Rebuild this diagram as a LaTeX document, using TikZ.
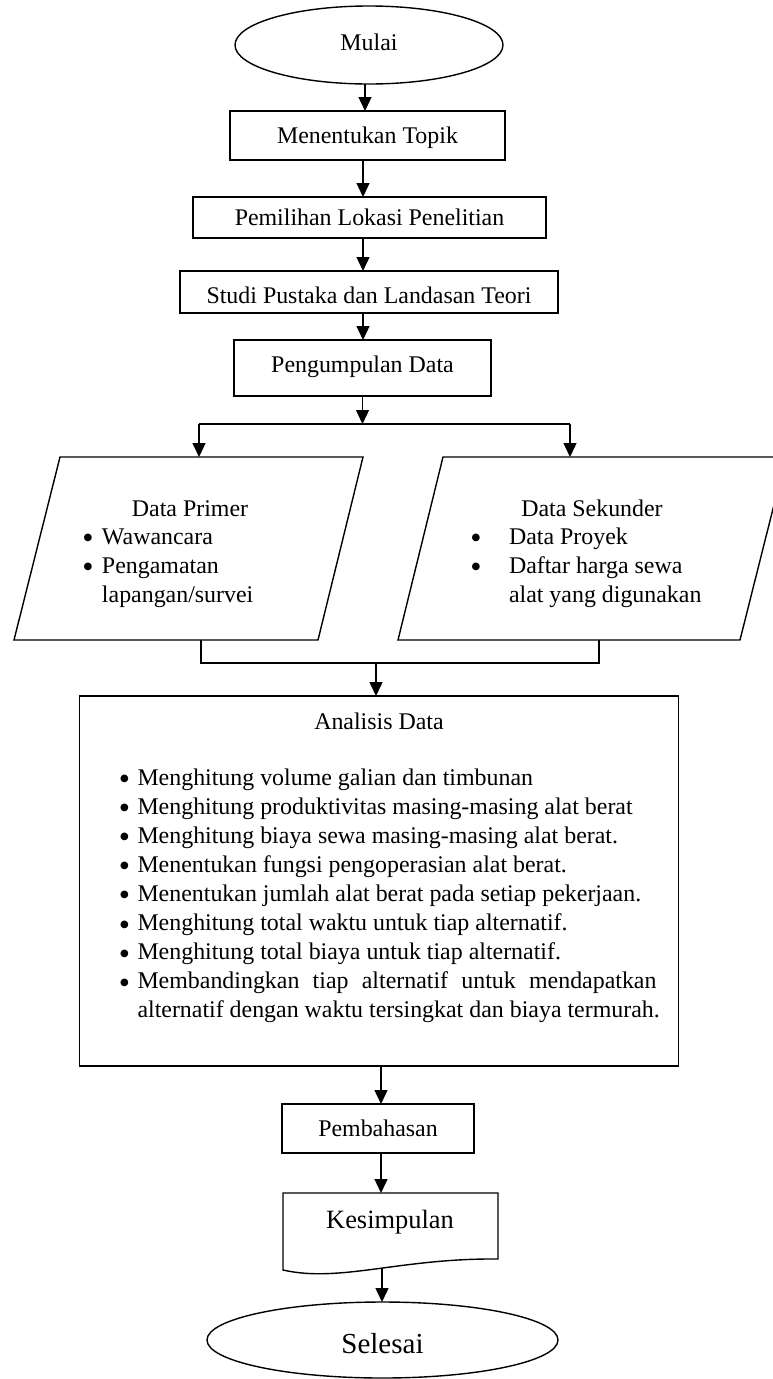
\documentclass[tikz,border=0pt]{standalone}
\usepackage{fontspec}
\setmainfont{Liberation Serif}
\newfontfamily\dejavu{DejaVu Sans}
\usetikzlibrary{arrows.meta,shapes.geometric,calc}
\newcommand{\blt}{\raisebox{3.5pt}{\dejavu\fontsize{10}{10}\selectfont ●}}
\begin{document}
\begin{tikzpicture}[x=1pt,y=-1pt,
  every node/.style={inner sep=0pt, outer sep=0pt, line width=1.4pt, font=\fontsize{23.9}{29.1}\selectfont},
  boxnode/.style={draw, rectangle},
  termnode/.style={draw, ellipse},
  arr/.style={-{Triangle[length=14pt,width=13pt]}, line width=1.4pt},
  ln/.style={line width=1.4pt},
  shp/.style={line width=1.4pt, line join=miter},
]
\useasboundingbox (0,0) rectangle (773,1379);
\clip (0,0) rectangle (773,1379);

% axis coordinates
\coordinate (ax1) at (365,0);
\coordinate (ax2) at (363,0);
\coordinate (ax3) at (381,0);

% top chain
\node[termnode, minimum width=268pt, minimum height=78pt, text height=16pt, text depth=6pt] (mulai) at (369,45) {Mulai};
\node[boxnode, minimum width=275pt, minimum height=49pt, text height=18.5pt, text depth=3.5pt] (topik) at (367.5,135.5) {Menentukan Topik};
\node[boxnode, minimum width=353pt, minimum height=41pt, text height=18.5pt, text depth=3.5pt] (lokasi) at (369.5,217.5) {Pemilihan Lokasi Penelitian};
\node[boxnode, minimum width=378pt, minimum height=42pt, text height=22pt, text depth=0pt] (studi) at (369,292) {Studi Pustaka dan Landasan Teori};
\node[boxnode, minimum width=257pt, minimum height=56pt, text height=15.7pt, text depth=6.3pt] (kumpul) at (362.5,368) {Pengumpulan Data};

\draw[arr] (ax1 |- mulai.south) -- (ax1 |- topik.north);
\draw[arr] (ax2 |- topik.south) -- (ax2 |- lokasi.north);
\draw[arr] (ax2 |- lokasi.south) -- (ax2 |- studi.north);
\draw[arr] (ax2 |- studi.south) -- (ax2 |- kumpul.north);

% split
\coordinate (js) at (362.5,424);
\coordinate (jl) at (199,424);
\coordinate (jr) at (570,424);
\draw[arr] (kumpul.south) -- (js);
\draw[ln] (jl) -- (jr);

% parallelograms
\coordinate (p1a) at (60,457);
\coordinate (p1b) at (363,457);
\coordinate (p1c) at (318,640);
\coordinate (p1d) at (14,640);
\coordinate (p2a) at (443,457);
\coordinate (p2b) at (786,457);
\coordinate (p2c) at (740,640);
\coordinate (p2d) at (398,640);
\draw[shp] (p1a) -- (p1b) -- (p1c) -- (p1d) -- cycle;
\draw[shp] (p2a) -- (p2b) -- (p2c) -- (p2d) -- cycle;
\draw[arr] (jl) -- (jl |- p1a);
\draw[arr] (jr) -- (jr |- p2a);

\node[anchor=base] (dp) at (190,516) {Data Primer};
\node[anchor=base west] (dpl) at (74,544) {\begin{tabular}[t]{@{}l@{}l@{}}
\makebox[28pt]{\blt} & Wawancara\\
\makebox[28pt]{\blt} & Pengamatan\\
 & lapangan/survei
\end{tabular}};
\node[anchor=base] (dsk) at (592,516) {Data Sekunder};
\node[anchor=base west] (dskl) at (443,544) {\begin{tabular}[t]{@{}l@{}l@{}}
\makebox[66pt]{\blt} & Data Proyek\\
\makebox[66pt]{\blt} & Daftar harga sewa\\
 & alat yang digunakan
\end{tabular}};

% merge
\coordinate (ml) at (201,640);
\coordinate (mr) at (599,640);
\coordinate (mj) at (376,663);
\draw[ln] (ml) -- (ml |- mj) -- (mr |- mj) -- (mr);

% analisis
\node[boxnode, minimum width=599pt, minimum height=370pt] (ana) at (379.25,881) {};
\draw[arr] (mj) -- (mj |- ana.north);
\node[anchor=base] (anat) at (379,729) {Analisis Data};
\node[anchor=base west] (anal) at (111.5,785) {\begin{tabular}[t]{@{}l@{}l@{}}
\makebox[26pt]{\blt} & Menghitung volume galian dan timbunan\\
\makebox[26pt]{\blt} & Menghitung produktivitas masing-masing alat berat\\
\makebox[26pt]{\blt} & Menghitung biaya sewa masing-masing alat berat.\\
\makebox[26pt]{\blt} & Menentukan fungsi pengoperasian alat berat.\\
\makebox[26pt]{\blt} & Menentukan jumlah alat berat pada setiap pekerjaan.\\
\makebox[26pt]{\blt} & Menghitung total waktu untuk tiap alternatif.\\
\makebox[26pt]{\blt} & Menghitung total biaya untuk tiap alternatif.\\
\makebox[26pt]{\blt} & \makebox[519pt][s]{Membandingkan tiap alternatif untuk mendapatkan}\\
 & alternatif dengan waktu tersingkat dan biaya termurah.
\end{tabular}};

% bottom chain
\node[boxnode, minimum width=192pt, minimum height=49pt, text height=18.5pt, text depth=3.5pt] (bahas) at (378,1128.5) {Pembahasan};
\draw[arr] (ax3 |- ana.south) -- (ax3 |- bahas.north);

\coordinate (ka) at (283,1193);
\coordinate (kb) at (498,1193);
\coordinate (kc) at (498,1259);
\coordinate (kd) at (283,1270);
\draw[shp] (ka) -- (kb) -- (kc) .. controls (400,1258) and (340,1283) .. (kd) -- cycle;
\node[anchor=base, font=\fontsize{26.4}{31}\selectfont] (kes) at (390,1228) {Kesimpulan};
\draw[arr] (ax3 |- bahas.south) -- (ax3 |- ka);

\coordinate (kbot) at (382,1268);
\node[termnode, minimum width=351pt, minimum height=76pt, text height=26pt, text depth=0pt, font=\fontsize{29}{34}\selectfont] (selesai) at (382.5,1340) {Selesai};
\draw[arr] (kbot) -- (kbot |- selesai.north);
\end{tikzpicture}
\end{document}
